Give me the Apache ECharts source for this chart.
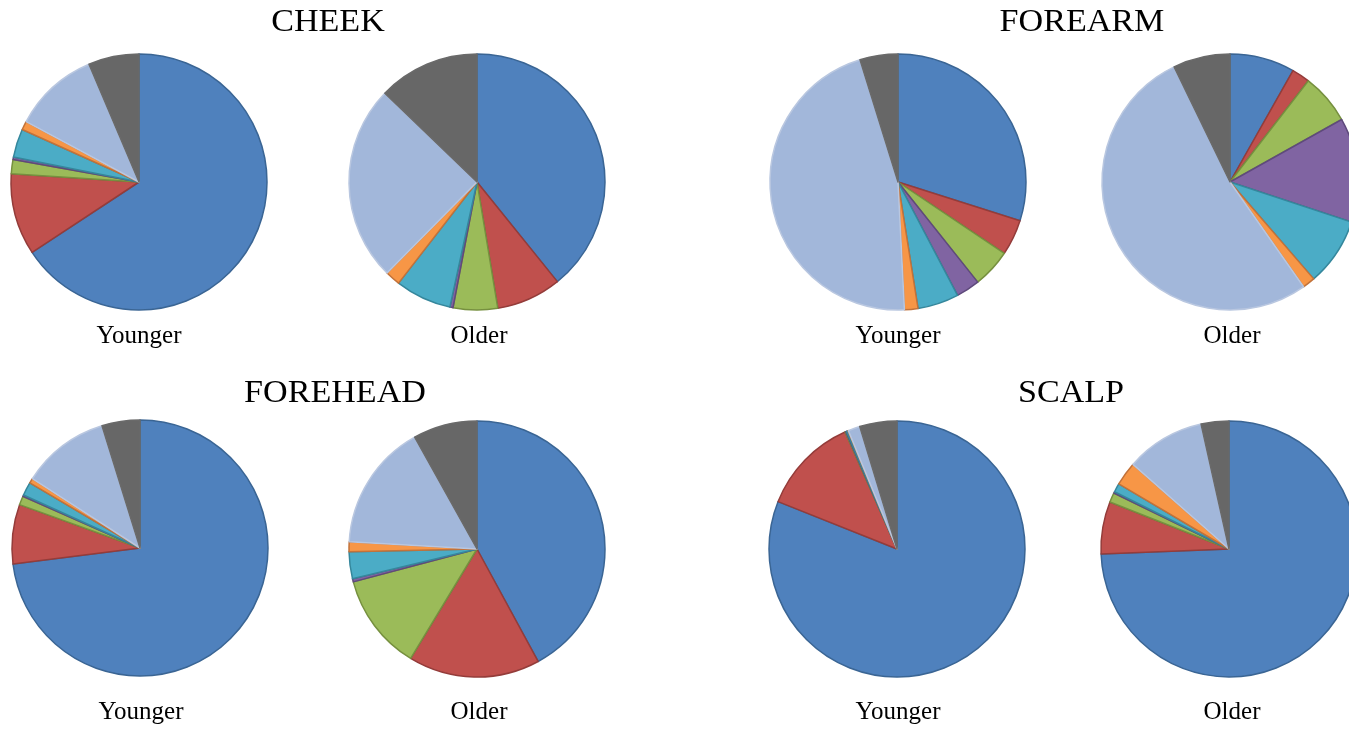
<!DOCTYPE html>
<html>
<head>
<meta charset="utf-8">
<script src="https://cdn.jsdelivr.net/npm/echarts@6/dist/echarts.min.js"></script>
<style>
  html, body { margin: 0; padding: 0; background: #fff; }
  #chart { width: 1349px; height: 729px; }
</style>
</head>
<body>
<div id="chart"></div>
<script>
// slice order, clockwise from 12 o'clock
const categories = ['C1', 'C2', 'C3', 'C4', 'C5', 'C6', 'C7', 'C8'];
const colors = ['#4f81bd', '#c0504d', '#9bbb59', '#8064a2', '#4bacc6', '#f79646', '#a2b7da', '#676767'];
const edges = ['#3a6594', '#943c3a', '#76903f', '#5f4a7c', '#35879c', '#c2723a', '#b9c7e0', '#6a6a6a'];

// percentages
const cheekYounger    = [65.8, 10.3, 1.8, 0.3, 3.6, 1.1, 10.8, 6.4];
const cheekOlder      = [39.2, 8.2, 5.6, 0.4, 7.1, 1.9, 24.8, 12.8];
const forearmYounger  = [29.9, 4.5, 4.9, 3.0, 5.2, 1.7, 46.0, 4.8];
const forearmOlder    = [8.2, 2.3, 6.4, 13.2, 8.6, 1.6, 52.6, 7.2];
const foreheadYounger = [73.0, 7.5, 1.1, 0.2, 1.7, 0.6, 11.1, 4.8];
const foreheadOlder   = [42.1, 16.6, 12.2, 0.4, 3.4, 1.25, 16.0, 8.1];
const scalpYounger    = [81.0, 12.3, 0.1, 0.1, 0.2, 0.05, 1.5, 4.7];
const scalpOlder      = [74.3, 6.6, 1.2, 0.2, 1.1, 3.0, 10.0, 3.5];

const groups = ['CHEEK', 'FOREARM', 'FOREHEAD', 'SCALP'];
const ages = ['Younger', 'Older'];

const pies = [
  { data: cheekYounger,    center: [139, 182] },
  { data: cheekOlder,      center: [477, 182] },
  { data: forearmYounger,  center: [898, 182] },
  { data: forearmOlder,    center: [1230, 182] },
  { data: foreheadYounger, center: [140, 548] },
  { data: foreheadOlder,   center: [477, 549] },
  { data: scalpYounger,    center: [897, 549] },
  { data: scalpOlder,      center: [1229, 549] }
];

const titlePos = [[328, 23], [1082, 23], [335, 394], [1071, 394]];
const labelPos = [[139, 336], [479, 336], [898, 336], [1232, 336],
                  [141, 712], [479, 712], [898, 712], [1232, 712]];

const series = pies.map(function (p) {
  return {
    type: 'pie',
    radius: 128,
    center: p.center,
    startAngle: 90,
    clockwise: true,
    label: { show: false },
    labelLine: { show: false },
    silent: true,
    data: p.data.map(function (v, i) {
      return {
        name: categories[i],
        value: v,
        itemStyle: { color: colors[i], borderColor: edges[i], borderWidth: 1.5 }
      };
    })
  };
});

const graphic = [];
groups.forEach(function (g, i) {
  graphic.push({
    type: 'text',
    x: titlePos[i][0], y: titlePos[i][1],
    scaleX: 1.1,
    style: {
      text: g, fill: '#000',
      font: '31px "Liberation Serif", "DejaVu Serif", serif',
      textAlign: 'center', textVerticalAlign: 'middle'
    }
  });
});
labelPos.forEach(function (p, i) {
  graphic.push({
    type: 'text',
    x: p[0], y: p[1],
    style: {
      text: ages[i % 2], fill: '#000',
      font: '25px "Liberation Serif", "DejaVu Serif", serif',
      textAlign: 'center', textVerticalAlign: 'middle'
    }
  });
});

const myChart = echarts.init(document.getElementById('chart'));
myChart.setOption({
  animation: false,
  backgroundColor: '#fff',
  series: series,
  graphic: graphic
});
</script>
</body>
</html>
